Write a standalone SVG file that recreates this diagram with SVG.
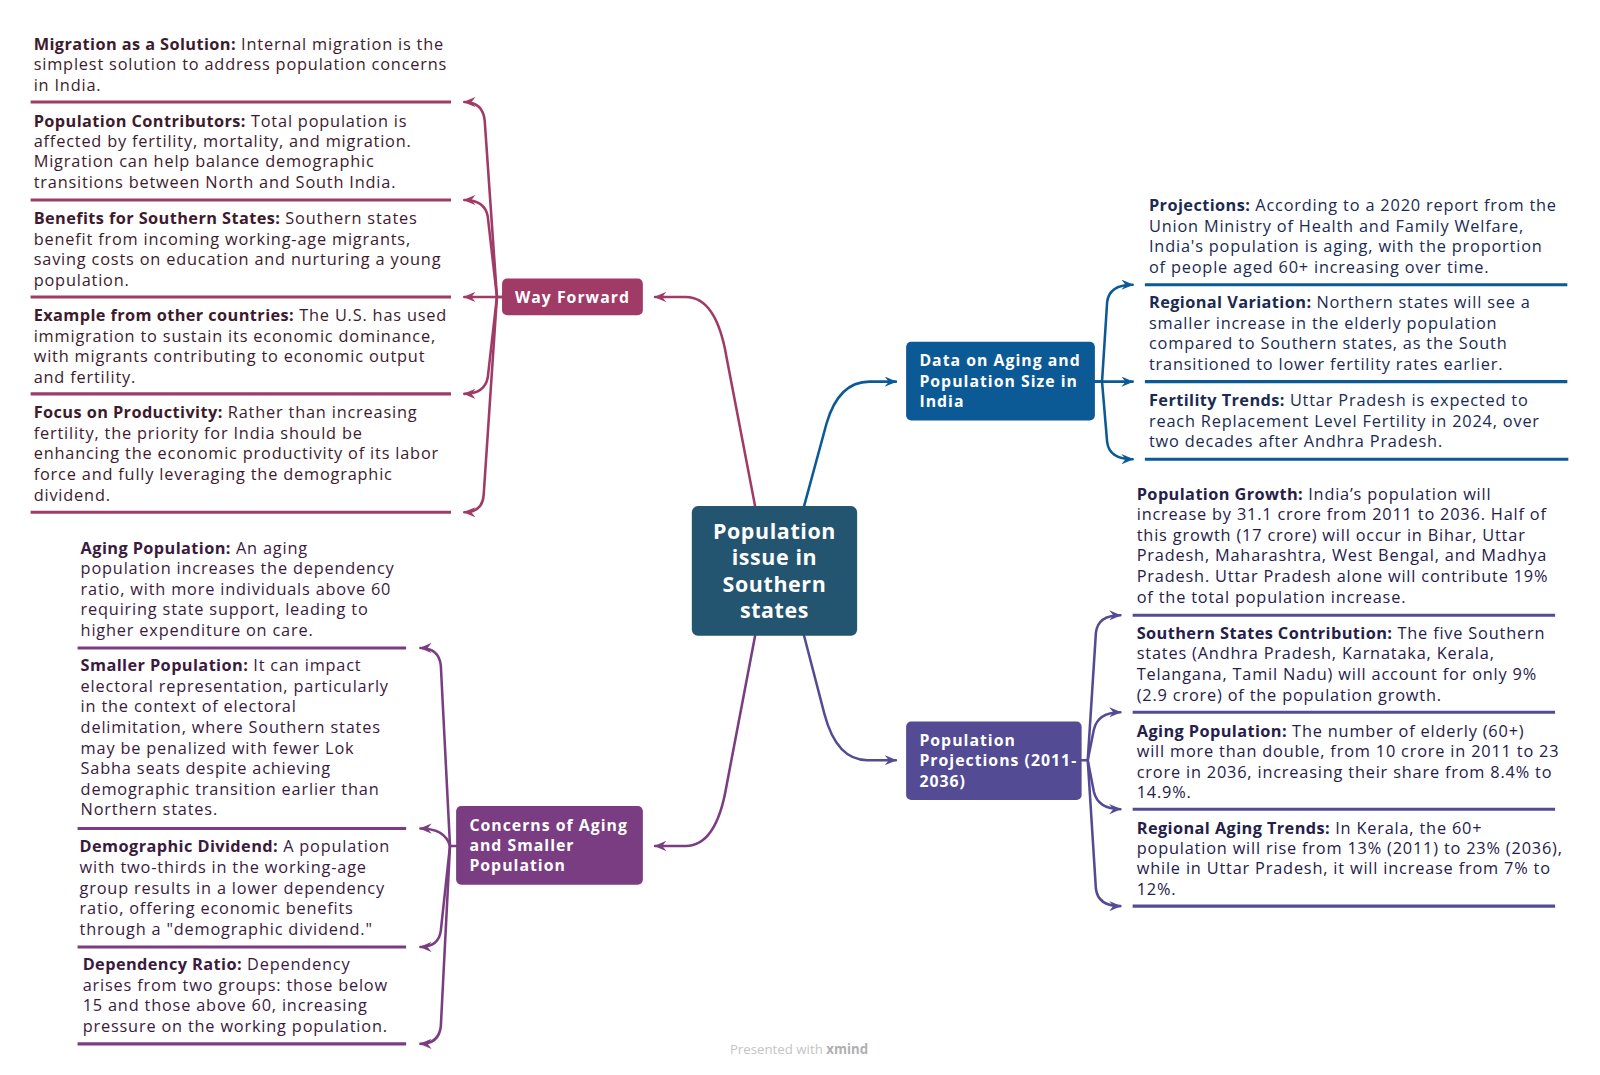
<svg xmlns="http://www.w3.org/2000/svg" width="1600" height="1075" viewBox="0 0 1600 1075">
<style>
.t{font-family:"Open Sans","Liberation Sans",sans-serif;font-size:16px;letter-spacing:0.8px}
.b{font-weight:700;letter-spacing:0.4px}
.wf{fill:#3d1a2e}
.dt{fill:#1a2a52}
.pp{fill:#25204a}
.cn{fill:#3a1a40}
.nl{font-family:"Open Sans","Liberation Sans",sans-serif;font-weight:700;fill:#fff;font-size:15.5px;letter-spacing:1px}
.c{fill:none;stroke-width:2.5;stroke-linecap:round}
.u{stroke-width:3}
</style>
<defs>
<marker id="aW" viewBox="0 0 12 10" refX="11" refY="5" markerWidth="12" markerHeight="10" markerUnits="userSpaceOnUse" orient="auto"><path d="M0,0 L12,5 L0,10 L4,5 z" fill="#a03a66"/></marker>
<marker id="aD" viewBox="0 0 12 10" refX="11" refY="5" markerWidth="12" markerHeight="10" markerUnits="userSpaceOnUse" orient="auto"><path d="M0,0 L12,5 L0,10 L4,5 z" fill="#0b5a96"/></marker>
<marker id="aP" viewBox="0 0 12 10" refX="11" refY="5" markerWidth="12" markerHeight="10" markerUnits="userSpaceOnUse" orient="auto"><path d="M0,0 L12,5 L0,10 L4,5 z" fill="#534b94"/></marker>
<marker id="aC" viewBox="0 0 12 10" refX="11" refY="5" markerWidth="12" markerHeight="10" markerUnits="userSpaceOnUse" orient="auto"><path d="M0,0 L12,5 L0,10 L4,5 z" fill="#7a3d82"/></marker>
</defs>
<rect width="1600" height="1075" fill="#fff"/>
<g transform="scale(1.0204)">
<g id="connectors">
<path class="c" stroke="#a03a66" marker-end="url(#aW)" d="M740,496 L712,350 Q702,291 672,291 L642,291"/>
<path class="c" stroke="#0b5a96" marker-end="url(#aD)" d="M788,496 L810,415 Q822,374 852,374 L878,374"/>
<path class="c" stroke="#534b94" marker-end="url(#aP)" d="M788,623 L808,700 Q820,745 850,745 L878,745"/>
<path class="c" stroke="#7a3d82" marker-end="url(#aC)" d="M740,623 L712,770 Q702,829 672,829 L642,829"/>
<g stroke="#a03a66" class="c">
<path marker-end="url(#aW)" d="M492,291 L487,291 L475,118 Q473,100 455,100"/>
<path marker-end="url(#aW)" d="M487,291 L478,212 Q475,196 455,196"/>
<path marker-end="url(#aW)" d="M492,291 L455,291"/>
<path marker-end="url(#aW)" d="M487,291 L478,370 Q475,386 455,386"/>
<path marker-end="url(#aW)" d="M487,291 L474,485 Q473,502 455,502"/>
</g>
<g stroke="#7a3d82" class="c">
<path marker-end="url(#aC)" d="M447,829 L441,829 L432,652 Q430,635 412,635"/>
<path marker-end="url(#aC)" d="M441,829 Q436,812 412,812"/>
<path marker-end="url(#aC)" d="M441,829 L432,912 Q430,928 412,928"/>
<path marker-end="url(#aC)" d="M441,829 L432,1006 Q430,1023 412,1023"/>
</g>
<g stroke="#0b5a96" class="c">
<path marker-end="url(#aD)" d="M1073,374 L1080,374 L1085,296 Q1087,279 1110,279"/>
<path marker-end="url(#aD)" d="M1073,374 L1110,374"/>
<path marker-end="url(#aD)" d="M1080,374 L1085,433 Q1087,450 1110,450"/>
</g>
<g stroke="#534b94" class="c">
<path marker-end="url(#aP)" d="M1060,745 L1066,745 L1074,620 Q1076,603 1098,603"/>
<path marker-end="url(#aP)" d="M1066,745 L1072,715 Q1076,698 1098,698"/>
<path marker-end="url(#aP)" d="M1066,745 L1072,776 Q1076,793 1098,793"/>
<path marker-end="url(#aP)" d="M1066,745 L1074,871 Q1076,888 1098,888"/>
</g>
</g>
<g id="center">
<rect x="678" y="496" width="162" height="127" rx="6" fill="#235470"/>
<text class="nl" style="font-size:21px;letter-spacing:0.6px" text-anchor="middle"><tspan x="759" y="528">Population</tspan><tspan x="759" y="554">issue in</tspan><tspan x="759" y="580">Southern</tspan><tspan x="759" y="606">states</tspan></text>
</g>
<g id="way-forward">
<rect x="492" y="273" width="138" height="36" rx="5" fill="#a03a66"/>
<text class="nl" x="561" y="297" text-anchor="middle">Way Forward</text>
</g>
<g id="data-aging">
<rect x="888" y="335" width="185" height="77" rx="5" fill="#0b5a96"/>
<text class="nl"><tspan x="901" y="359">Data on Aging and</tspan><tspan x="901" y="379">Population Size in</tspan><tspan x="901" y="399">India</tspan></text>
</g>
<g id="pop-projections">
<rect x="888" y="707" width="172" height="77" rx="5" fill="#534b94"/>
<text class="nl"><tspan x="901" y="731">Population</tspan><tspan x="901" y="751">Projections (2011-</tspan><tspan x="901" y="771">2036)</tspan></text>
</g>
<g id="concerns">
<rect x="447" y="790" width="183" height="77" rx="5" fill="#7a3d82"/>
<text class="nl"><tspan x="460" y="814">Concerns of Aging</tspan><tspan x="460" y="834">and Smaller</tspan><tspan x="460" y="854">Population</tspan></text>
</g>
<g id="wf-topics">
<g stroke="#a03a66" class="u"><line x1="30" y1="100" x2="442" y2="100"/><line x1="30" y1="196" x2="442" y2="196"/><line x1="30" y1="291" x2="442" y2="291"/><line x1="30" y1="386" x2="442" y2="386"/><line x1="30" y1="502" x2="442" y2="502"/></g>
<text class="t wf"><tspan x="33" y="49"><tspan class="b">Migration as a Solution:</tspan> Internal migration is the</tspan><tspan x="33" y="69">simplest solution to address population concerns</tspan><tspan x="33" y="89">in India.</tspan></text>
<text class="t wf"><tspan x="33" y="124"><tspan class="b">Population Contributors:</tspan> Total population is</tspan><tspan x="33" y="144">affected by fertility, mortality, and migration.</tspan><tspan x="33" y="164">Migration can help balance demographic</tspan><tspan x="33" y="184">transitions between North and South India.</tspan></text>
<text class="t wf"><tspan x="33" y="220"><tspan class="b">Benefits for Southern States:</tspan> Southern states</tspan><tspan x="33" y="240">benefit from incoming working-age migrants,</tspan><tspan x="33" y="260">saving costs on education and nurturing a young</tspan><tspan x="33" y="280">population.</tspan></text>
<text class="t wf"><tspan x="33" y="315"><tspan class="b">Example from other countries:</tspan> The U.S. has used</tspan><tspan x="33" y="335">immigration to sustain its economic dominance,</tspan><tspan x="33" y="355">with migrants contributing to economic output</tspan><tspan x="33" y="375">and fertility.</tspan></text>
<text class="t wf"><tspan x="33" y="410"><tspan class="b">Focus on Productivity:</tspan> Rather than increasing</tspan><tspan x="33" y="430">fertility, the priority for India should be</tspan><tspan x="33" y="450">enhancing the economic productivity of its labor</tspan><tspan x="33" y="470">force and fully leveraging the demographic</tspan><tspan x="33" y="491">dividend.</tspan></text>
</g>
<g id="data-topics">
<g stroke="#0b5a96" class="u"><line x1="1122" y1="279" x2="1536" y2="279"/><line x1="1122" y1="374" x2="1536" y2="374"/><line x1="1122" y1="450" x2="1537" y2="450"/></g>
<text class="t dt"><tspan x="1126" y="207"><tspan class="b">Projections:</tspan> According to a 2020 report from the</tspan><tspan x="1126" y="227">Union Ministry of Health and Family Welfare,</tspan><tspan x="1126" y="247">India's population is aging, with the proportion</tspan><tspan x="1126" y="268">of people aged 60+ increasing over time.</tspan></text>
<text class="t dt"><tspan x="1126" y="302"><tspan class="b">Regional Variation:</tspan> Northern states will see a</tspan><tspan x="1126" y="322">smaller increase in the elderly population</tspan><tspan x="1126" y="342">compared to Southern states, as the South</tspan><tspan x="1126" y="363">transitioned to lower fertility rates earlier.</tspan></text>
<text class="t dt"><tspan x="1126" y="398"><tspan class="b">Fertility Trends:</tspan> Uttar Pradesh is expected to</tspan><tspan x="1126" y="418">reach Replacement Level Fertility in 2024, over</tspan><tspan x="1126" y="438">two decades after Andhra Pradesh.</tspan></text>
</g>
<g id="projection-topics">
<g stroke="#534b94" class="u"><line x1="1110" y1="603" x2="1524" y2="603"/><line x1="1110" y1="698" x2="1524" y2="698"/><line x1="1110" y1="793" x2="1524" y2="793"/><line x1="1110" y1="888" x2="1524" y2="888"/></g>
<text class="t pp"><tspan x="1114" y="490"><tspan class="b">Population Growth:</tspan> India’s population will</tspan><tspan x="1114" y="510">increase by 31.1 crore from 2011 to 2036. Half of</tspan><tspan x="1114" y="530">this growth (17 crore) will occur in Bihar, Uttar</tspan><tspan x="1114" y="550">Pradesh, Maharashtra, West Bengal, and Madhya</tspan><tspan x="1114" y="570">Pradesh. Uttar Pradesh alone will contribute 19%</tspan><tspan x="1114" y="591">of the total population increase.</tspan></text>
<text class="t pp"><tspan x="1114" y="626"><tspan class="b">Southern States Contribution:</tspan> The five Southern</tspan><tspan x="1114" y="646">states (Andhra Pradesh, Karnataka, Kerala,</tspan><tspan x="1114" y="666">Telangana, Tamil Nadu) will account for only 9%</tspan><tspan x="1114" y="687">(2.9 crore) of the population growth.</tspan></text>
<text class="t pp"><tspan x="1114" y="722"><tspan class="b">Aging Population:</tspan> The number of elderly (60+)</tspan><tspan x="1114" y="742">will more than double, from 10 crore in 2011 to 23</tspan><tspan x="1114" y="762">crore in 2036, increasing their share from 8.4% to</tspan><tspan x="1114" y="782">14.9%.</tspan></text>
<text class="t pp"><tspan x="1114" y="817"><tspan class="b">Regional Aging Trends:</tspan> In Kerala, the 60+</tspan><tspan x="1114" y="837">population will rise from 13% (2011) to 23% (2036),</tspan><tspan x="1114" y="857">while in Uttar Pradesh, it will increase from 7% to</tspan><tspan x="1114" y="877">12%.</tspan></text>
</g>
<g id="concern-topics">
<g stroke="#7a3d82" class="u"><line x1="76" y1="635" x2="398" y2="635"/><line x1="76" y1="812" x2="398" y2="812"/><line x1="76" y1="928" x2="398" y2="928"/><line x1="76" y1="1023" x2="398" y2="1023"/></g>
<text class="t cn"><tspan x="79" y="543"><tspan class="b">Aging Population:</tspan> An aging</tspan><tspan x="79" y="563">population increases the dependency</tspan><tspan x="79" y="583">ratio, with more individuals above 60</tspan><tspan x="79" y="603">requiring state support, leading to</tspan><tspan x="79" y="623">higher expenditure on care.</tspan></text>
<text class="t cn"><tspan x="79" y="658"><tspan class="b">Smaller Population:</tspan> It can impact</tspan><tspan x="79" y="678">electoral representation, particularly</tspan><tspan x="79" y="698">in the context of electoral</tspan><tspan x="79" y="718">delimitation, where Southern states</tspan><tspan x="79" y="739">may be penalized with fewer Lok</tspan><tspan x="79" y="759">Sabha seats despite achieving</tspan><tspan x="79" y="779">demographic transition earlier than</tspan><tspan x="79" y="799">Northern states.</tspan></text>
<text class="t cn"><tspan x="78" y="835"><tspan class="b">Demographic Dividend:</tspan> A population</tspan><tspan x="78" y="856">with two-thirds in the working-age</tspan><tspan x="78" y="876">group results in a lower dependency</tspan><tspan x="78" y="896">ratio, offering economic benefits</tspan><tspan x="78" y="916">through a "demographic dividend."</tspan></text>
<text class="t cn"><tspan x="81" y="951"><tspan class="b">Dependency Ratio:</tspan> Dependency</tspan><tspan x="81" y="971">arises from two groups: those below</tspan><tspan x="81" y="991">15 and those above 60, increasing</tspan><tspan x="81" y="1011">pressure on the working population.</tspan></text>
</g>
<text x="783" y="1033" text-anchor="middle" style="font-family:'Open Sans','Liberation Sans',sans-serif;font-size:13px;fill:#c4c4c4">Presented with <tspan font-weight="700" fill="#b0b0b0">xmind</tspan></text>
</g>
</svg>
